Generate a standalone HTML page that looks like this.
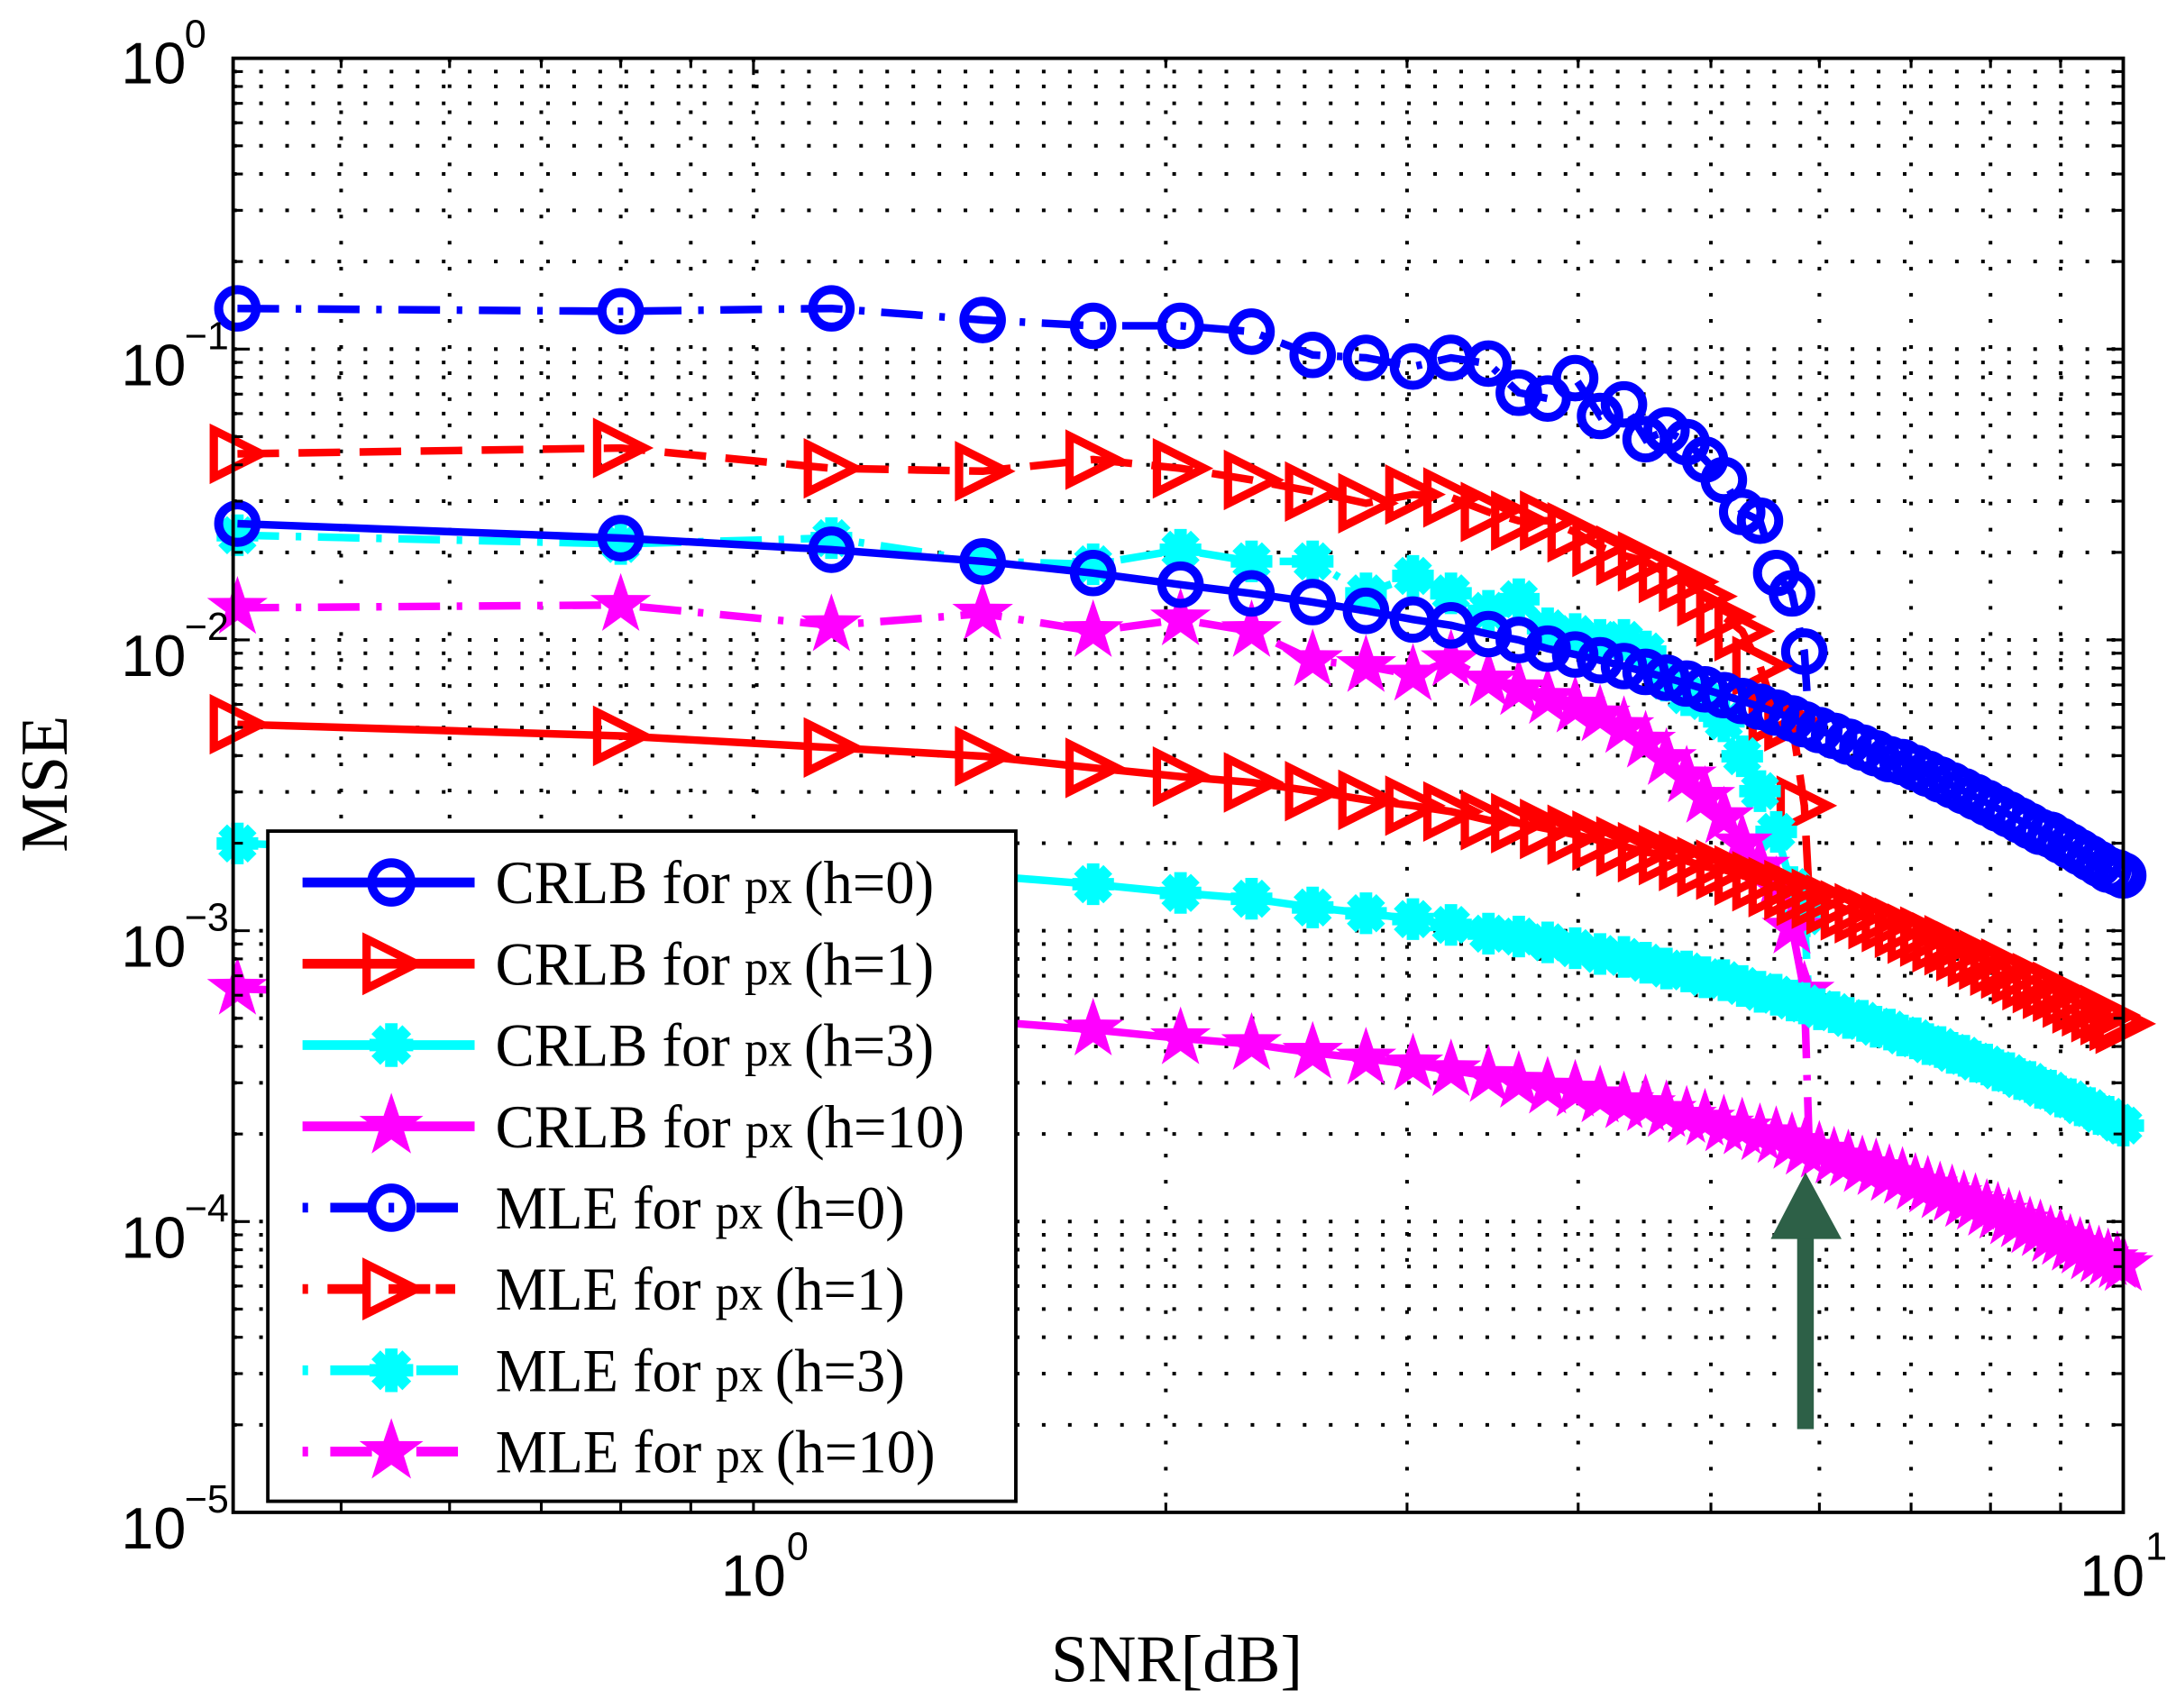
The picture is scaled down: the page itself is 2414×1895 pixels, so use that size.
<!DOCTYPE html>
<html><head><meta charset="utf-8"><style>
html,body{margin:0;padding:0;background:#fff;}
svg{display:block;}
</style></head><body>
<svg id="chart" width="2414" height="1895" viewBox="0 0 1568 1231" preserveAspectRatio="none" xmlns="http://www.w3.org/2000/svg">
<g id="grid"></g>
<g id="series"></g>
<g id="axes"></g>
</svg>
<script>
// SNR sample points (x values)
const snrMle = [0.42,0.80,1.14,1.47,1.77,2.05,2.31,2.56,2.80,3.03,3.23,3.44,3.62,3.80,3.98,4.15,4.32,4.48,4.64,4.80,4.95,5.11,5.27,5.43,5.58,5.73,5.85];
const snrCrlb = [0.42,0.80,1.14,1.47,1.77,2.05,2.31,2.56,2.80,3.03,3.23,3.44,3.62,3.80,3.98,4.15,4.32,4.48,4.64,4.80,4.95,5.11,5.27,5.43,5.58,5.73,5.85,6.00,6.15,6.30,6.45,6.60,6.75,6.90,7.05,7.20,7.35,7.50,7.65,7.80,7.95,8.10,8.25,8.40,8.55,8.70,8.85,9.00,9.15,9.30,9.45,9.60,9.75,9.90,10.0];
// log10(MSE) values
const crlbH0 = [-1.60,-1.65,-1.69,-1.73,-1.77,-1.81,-1.84,-1.87,-1.90,-1.93,-1.95,-1.98,-2.00,-2.03,-2.05,-2.07,-2.09,-2.11,-2.13,-2.15,-2.17,-2.19,-2.21,-2.23,-2.25,-2.27,-2.29,-2.31,-2.33,-2.35,-2.37,-2.39,-2.41,-2.42,-2.44,-2.46,-2.48,-2.50,-2.52,-2.54,-2.56,-2.58,-2.60,-2.62,-2.64,-2.66,-2.67,-2.69,-2.71,-2.73,-2.75,-2.77,-2.79,-2.80,-2.81];
const crlbH1 = [-2.29,-2.33,-2.37,-2.40,-2.44,-2.47,-2.49,-2.52,-2.55,-2.57,-2.59,-2.62,-2.63,-2.65,-2.67,-2.69,-2.71,-2.73,-2.74,-2.76,-2.78,-2.79,-2.81,-2.83,-2.85,-2.86,-2.88,-2.89,-2.91,-2.93,-2.94,-2.96,-2.97,-2.99,-3.01,-3.02,-3.04,-3.05,-3.07,-3.09,-3.10,-3.12,-3.13,-3.15,-3.17,-3.18,-3.20,-3.21,-3.23,-3.25,-3.26,-3.28,-3.29,-3.31,-3.32];
const crlbH3 = [-2.70,-2.74,-2.77,-2.81,-2.84,-2.87,-2.89,-2.92,-2.94,-2.96,-2.98,-3.01,-3.02,-3.04,-3.06,-3.08,-3.09,-3.11,-3.13,-3.14,-3.16,-3.17,-3.19,-3.21,-3.22,-3.24,-3.25,-3.27,-3.28,-3.30,-3.31,-3.33,-3.34,-3.36,-3.37,-3.39,-3.40,-3.42,-3.43,-3.45,-3.46,-3.48,-3.49,-3.51,-3.52,-3.54,-3.55,-3.57,-3.58,-3.60,-3.61,-3.63,-3.64,-3.66,-3.67];
const crlbH10 = [-3.20,-3.24,-3.27,-3.31,-3.34,-3.37,-3.39,-3.42,-3.44,-3.46,-3.48,-3.50,-3.52,-3.54,-3.55,-3.57,-3.59,-3.60,-3.62,-3.64,-3.65,-3.67,-3.68,-3.70,-3.71,-3.73,-3.75,-3.76,-3.78,-3.79,-3.81,-3.82,-3.84,-3.85,-3.87,-3.88,-3.90,-3.91,-3.93,-3.94,-3.96,-3.97,-3.99,-4.00,-4.02,-4.03,-4.05,-4.06,-4.08,-4.09,-4.11,-4.12,-4.13,-4.14,-4.15];
const mleH0 = [-0.86,-0.87,-0.86,-0.90,-0.92,-0.92,-0.94,-1.02,-1.03,-1.06,-1.03,-1.05,-1.15,-1.17,-1.10,-1.23,-1.19,-1.31,-1.28,-1.32,-1.38,-1.45,-1.56,-1.59,-1.77,-1.84,-2.04];
const mleH1 = [-1.36,-1.34,-1.41,-1.42,-1.38,-1.41,-1.45,-1.49,-1.53,-1.50,-1.51,-1.56,-1.59,-1.59,-1.63,-1.68,-1.71,-1.73,-1.77,-1.80,-1.85,-1.92,-1.97,-2.09,-2.26,-2.28,-2.57];
const mleH3 = [-1.64,-1.67,-1.65,-1.73,-1.74,-1.69,-1.73,-1.73,-1.84,-1.78,-1.84,-1.90,-1.86,-1.96,-1.98,-2.00,-2.00,-2.04,-2.14,-2.19,-2.21,-2.28,-2.40,-2.52,-2.66,-2.85,-2.95];
const mleH10 = [-1.89,-1.88,-1.95,-1.91,-1.97,-1.93,-1.97,-2.07,-2.09,-2.12,-2.07,-2.14,-2.17,-2.20,-2.23,-2.26,-2.30,-2.35,-2.41,-2.47,-2.54,-2.61,-2.70,-2.78,-2.85,-2.99,-3.21];
const yTickExps = [0,-1,-2,-3,-4,-5];
const xTickExps = [0,1];
const legendLabels = ["CRLB for ","CRLB for ","CRLB for ","CRLB for ","MLE for ","MLE for ","MLE for ","MLE for "];
const legendH = ["(h=0)","(h=1)","(h=3)","(h=10)","(h=0)","(h=1)","(h=3)","(h=10)"];

const NS="http://www.w3.org/2000/svg";
const L=168,R=1530,T=42,B=1090;
const xMinLog=Math.log10(0.417), xMaxLog=1;
function sx(v){return L+(Math.log10(v)-xMinLog)/(xMaxLog-xMinLog)*(R-L);}
function sy(e){return T+(0-e)/5*(B-T);}
function mk(tag,attrs,parent){const el=document.createElementNS(NS,tag);for(const k in attrs)el.setAttribute(k,attrs[k]);parent.appendChild(el);return el;}
const grid=document.getElementById('grid'), ser=document.getElementById('series'), axes=document.getElementById('axes');
const dotStyle={stroke:'#000','stroke-width':2.6,'stroke-dasharray':'2.6 16.2'};

for(let d=-1;d<=0;d++){for(let m=1;m<10;m++){const v=m*Math.pow(10,d);if(v<0.417||v>10)continue;const x=sx(v);
 const g=mk('line',Object.assign({x1:x,y1:T,x2:x,y2:B},dotStyle),grid);
 
 
 mk('line',{x1:x,y1:B,x2:x,y2:B-(m===1?12:7),stroke:'#000','stroke-width':2},axes);
 mk('line',{x1:x,y1:T,x2:x,y2:T+(m===1?12:7),stroke:'#000','stroke-width':2},axes);
}}
for(let d=-5;d<0;d++){for(let m=1;m<10;m++){const e=d+Math.log10(m);const y=sy(e);
 if(m>1||d>-5){const g=mk('line',Object.assign({x1:L,y1:y,x2:R,y2:y},dotStyle),grid);
 
 }
 mk('line',{x1:L,y1:y,x2:L+(m===1?12:7),y2:y,stroke:'#000','stroke-width':2},axes);
 mk('line',{x1:R,y1:y,x2:R-(m===1?12:7),y2:y,stroke:'#000','stroke-width':2},axes);
}}
const fr=mk('rect',{x:L,y:T,width:R-L,height:B-T,fill:'none',stroke:'#000','stroke-width':2.5},axes);



function marker(type,x,y,color,parent,s){
 s=s||1;let el;
 if(type==='o'){el=mk('circle',{cx:x,cy:y,r:13.5*s,fill:'none',stroke:color,'stroke-width':6.5},parent);}
 else if(type==='>'){const a=17*s;el=mk('polygon',{points:`${x-a},${y-a} ${x+a},${y} ${x-a},${y+a}`,fill:'none',stroke:color,'stroke-width':6,'stroke-linejoin':'miter'},parent);}
 else if(type==='*'){el=mk('g',{},parent);const a=15*s;
  for(let k=0;k<4;k++){const ang=k*Math.PI/4;mk('line',{x1:x-a*Math.cos(ang),y1:y-a*Math.sin(ang),x2:x+a*Math.cos(ang),y2:y+a*Math.sin(ang),stroke:color,'stroke-width':9},el);}
  mk('circle',{cx:x,cy:y,r:9*s,fill:color},el);}
 else if(type==='p'){const ro=23*s,ri=9*s;let pts=[];for(let k=0;k<10;k++){const r=k%2?ri:ro;const ang=-Math.PI/2+k*Math.PI/5;pts.push((x+r*Math.cos(ang)).toFixed(1)+','+(y+r*Math.sin(ang)).toFixed(1));}
  el=mk('polygon',{points:pts.join(' '),fill:color},parent);}
 return el;
}
const series=[
 {name:'crlb-h0',xs:snrCrlb,ys:crlbH0,color:'#0000ff',m:'o',dash:null},
 {name:'crlb-h1',xs:snrCrlb,ys:crlbH1,color:'#ff0000',m:'>',dash:null},
 {name:'crlb-h3',xs:snrCrlb,ys:crlbH3,color:'#00ffff',m:'*',dash:null},
 {name:'crlb-h10',xs:snrCrlb,ys:crlbH10,color:'#ff00ff',m:'p',dash:null},
 {name:'mle-h0',xs:snrMle,ys:mleH0,color:'#0000ff',m:'o',dash:'30 12 4 12'},
 {name:'mle-h1',xs:snrMle,ys:mleH1,color:'#ff0000',m:'>',dash:'30 14'},
 {name:'mle-h3',xs:snrMle,ys:mleH3,color:'#00ffff',m:'*',dash:'30 12 4 12'},
 {name:'mle-h10',xs:snrMle,ys:mleH10,color:'#ff00ff',m:'p',dash:'30 12 4 12'}
];
const drawOrder=[4,5,6,7,0,1,2,3];
drawOrder.forEach(i=>{const s=series[i];
 const g=mk('g',{},ser);
 
 
 const pts=s.xs.map((v,k)=>sx(v).toFixed(1)+','+sy(s.ys[k]).toFixed(1));
 if(i>=4){const c=series[i-4];const xe=snrMle[snrMle.length-1]+0.05;
  pts.push(sx(xe).toFixed(1)+','+sy(c.ys[27]).toFixed(1));}
 const pl=mk('polyline',{points:pts.join(' '),fill:'none',stroke:s.color,'stroke-width':5.5},g);
 if(s.dash)pl.setAttribute('stroke-dasharray',s.dash);
 
 
 s.xs.forEach((v,k)=>{const m=marker(s.m,sx(v),sy(s.ys[k]),s.color,g);
  
  });
});

const ar=mk('g',{},axes);


mk('rect',{x:1295,y:890,width:12,height:140,fill:'#2d6047'},ar);
mk('polygon',{points:'1301,845 1327,893 1276,893',fill:'#2d6047'},ar);

const tf='font-family:"Liberation Sans",Arial,sans-serif;';
yTickExps.forEach(e=>{const y=sy(e);
 const t=mk('text',{x:134,y:y+(e===0?18:26),'text-anchor':'end',style:tf+'font-size:42px'},axes);
 t.textContent='10';
 
 
 const sup=mk('text',{x:133,y:y-(e===0?8:0),'text-anchor':'start',style:tf+'font-size:28px'},axes);
 sup.textContent=e===0?'0':'\u2212'+(-e);
 
 
});
xTickExps.forEach(e=>{const x=sx(Math.pow(10,e));
 const t=mk('text',{x:x+(e===0?0:-8),y:1150,'text-anchor':'middle',style:tf+'font-size:42px'},axes);
 t.textContent='10';
 
 
 const sup=mk('text',{x:x+(e===0?24:16),y:1124,style:tf+'font-size:28px'},axes);
 sup.textContent=String(e);
 
 
});
const sf='font-family:"Liberation Serif","Times New Roman",serif;';
const xl=mk('text',{x:848,y:1212,'text-anchor':'middle',style:sf+'font-size:48px'},axes);
xl.textContent='SNR[dB]';


const yl=mk('text',{x:0,y:0,'text-anchor':'middle',transform:'translate(48,565) rotate(-90)',style:sf+'font-size:48px'},axes);
yl.textContent='MSE';



const lg=mk('g',{},axes);


mk('rect',{x:193,y:599,width:539,height:483,fill:'#fff',stroke:'#000','stroke-width':2.5},lg);
series.forEach((s,i)=>{const y=636+i*58.6;
 const e=mk('g',{},lg);
 
 
 const ln=mk('line',{x1:218,y1:y,x2:342,y2:y,stroke:s.color,'stroke-width':7},e);
 if(s.dash)ln.setAttribute('stroke-dasharray',s.dash==='30 14'?'4 14 30 14 30':'4 16 30 12');
 marker(s.m,282,y,s.color,e,1.05);
 const t=mk('text',{x:357,y:y+15,style:sf+'font-size:44px'},e);
 const a=document.createElementNS(NS,'tspan');a.textContent=legendLabels[i];t.appendChild(a);
 const b=document.createElementNS(NS,'tspan');b.setAttribute('style','font-size:36px');b.textContent='px ';t.appendChild(b);
 const c=document.createElementNS(NS,'tspan');c.textContent=legendH[i];t.appendChild(c);
 const w=(i<4?316:295)+(legendH[i].length>5?22:0);
 t.setAttribute('textLength',w);
 t.setAttribute('lengthAdjust','spacingAndGlyphs');
});
</script>
</body></html>
